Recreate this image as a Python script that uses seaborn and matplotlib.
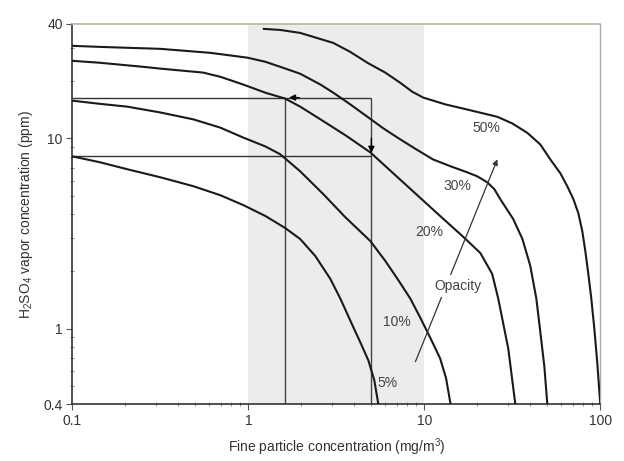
import numpy as np
import pandas as pd
import matplotlib
matplotlib.use("Agg")
import matplotlib.pyplot as plt
import seaborn as sns

# ---- data ----
x_5 = [0.1, 0.144, 0.205, 0.316, 0.487, 0.693, 0.937, 1.25, 1.62, 1.97, 2.40, 2.92,
       3.33, 3.80, 4.33, 4.81, 5.20, 5.48]
y_5 = [8.05, 7.49, 6.89, 6.25, 5.61, 5.03, 4.46, 3.91, 3.38, 2.96, 2.41, 1.83,
       1.44, 1.10, 0.846, 0.680, 0.534, 0.4]

x_10 = [0.1, 0.144, 0.205, 0.316, 0.487, 0.693, 0.937, 1.25, 1.52, 1.97, 2.67, 3.56,
        4.93, 6.00, 7.03, 8.32, 9.49, 10.8, 12.3, 13.3, 14.1]
y_10 = [15.8, 15.2, 14.7, 13.7, 12.6, 11.4, 10.1, 9.08, 8.25, 6.72, 5.09, 3.85,
        2.89, 2.27, 1.83, 1.44, 1.14, 0.897, 0.697, 0.547, 0.4]

x_20 = [0.1, 0.144, 0.253, 0.316, 0.554, 0.693, 0.937, 1.25, 1.62, 1.97, 2.57, 3.56,
        4.93, 7.80, 12.3, 16.7, 20.8, 24.3, 26.3, 30.0, 32.9]
y_20 = [25.6, 25.0, 23.8, 23.3, 22.2, 21.1, 19.2, 17.4, 16.2, 14.7, 12.6, 10.4,
        8.45, 5.74, 3.91, 3.03, 2.50, 1.94, 1.44, 0.785, 0.4]

x_30 = [0.1, 0.144, 0.316, 0.608, 0.987, 1.25, 1.52, 1.97, 2.57, 3.04, 3.80, 4.75,
        5.85, 7.31, 9.01, 11.2, 14.1, 17.5, 20.0, 22.8, 25.0, 27.0, 32.0, 36.1,
        40.0, 43.3, 45.6, 48.1, 50.0]
y_30 = [30.7, 30.3, 29.6, 28.2, 26.6, 25.3, 23.8, 21.9, 19.2, 17.4, 15.1, 13.0,
        11.3, 9.88, 8.76, 7.76, 7.14, 6.64, 6.32, 5.88, 5.41, 4.80, 3.77, 2.96,
        2.14, 1.44, 0.964, 0.632, 0.4]

x_50 = [1.22, 1.52, 1.97, 3.04, 3.80, 4.75, 6.00, 7.31, 8.55, 9.87, 13.2, 17.5,
        26.0, 31.6, 38.5, 45.6, 52.0, 59.3, 64.9, 70.3, 75.0, 79.0, 82.2, 85.5,
        88.9, 92.5, 96.1, 100.0]
y_50 = [37.7, 37.2, 35.9, 31.8, 28.5, 25.0, 22.2, 19.6, 17.6, 16.4, 15.1, 14.2,
        13.0, 12.0, 10.7, 9.30, 7.76, 6.56, 5.61, 4.80, 4.05, 3.26, 2.56, 1.94,
        1.44, 1.0, 0.664, 0.4]

curve_names = ["5%", "10%", "20%", "30%", "50%"]
guide_x = [1.62, 5.0]       # vertical guide lines
guide_y = [16.4, 8.05]      # horizontal guide lines
shade_range = [1, 10]
x_ticks = [0.1, 1, 10, 100]
x_ticklabels = ["0.1", "1", "10", "100"]
y_ticks = [0.4, 1, 10, 40]
y_ticklabels = ["0.4", "1", "10", "40"]

label_pos = {"50%": (18.7, 11.4), "30%": (12.8, 5.61), "20%": (8.9, 3.22),
             "10%": (5.85, 1.09), "5%": (5.4, 0.515)}

frames = []
for name, xs, ys in zip(curve_names, [x_5, x_10, x_20, x_30, x_50], [y_5, y_10, y_20, y_30, y_50]):
    frames.append(pd.DataFrame({"x": xs, "y": ys, "curve": name}))
df = pd.concat(frames, ignore_index=True)

sns.set_theme(style="white")
plt.rcParams["font.family"] = ["Liberation Sans", "DejaVu Sans"]
plt.rcParams["mathtext.default"] = "regular"

fig = plt.figure(figsize=(6.24, 4.61), dpi=100)
ax = fig.add_axes([0.116, 0.123, 0.846, 0.825])

ax.axvspan(shade_range[0], shade_range[1], color="#ececec", zorder=0, lw=0)

sns.lineplot(data=df, x="x", y="y", units="curve", estimator=None, sort=False,
             color="#1a1a1a", lw=1.5, ax=ax, legend=False, zorder=3)
for ln in ax.get_lines():
    ln.set_solid_joinstyle("round")

# guide rectangle lines
ax.hlines(guide_y, 0.1, guide_x[1], color="#333333", lw=1.0, zorder=2)
ax.vlines(guide_x, 0.4, guide_y[0], color="#444444", lw=1.0, zorder=2)
# small arrowheads
ax.annotate("", xy=(1.70, guide_y[0]), xytext=(1.95, guide_y[0]),
            arrowprops=dict(arrowstyle="-|>", color="black", lw=1.0,
                            mutation_scale=9, shrinkA=0, shrinkB=0), zorder=5)
ax.annotate("", xy=(guide_x[1], 8.4), xytext=(guide_x[1], 10.0),
            arrowprops=dict(arrowstyle="-|>", color="black", lw=1.0,
                            mutation_scale=9, shrinkA=0, shrinkB=0), zorder=5)

ax.set_xscale("log")
ax.set_yscale("log")
ax.set_xlim(0.1, 100)
ax.set_ylim(0.4, 40)
ax.set_xticks(x_ticks)
ax.set_xticklabels(x_ticklabels)
ax.set_yticks(y_ticks)
ax.set_yticklabels(y_ticklabels)
ax.tick_params(axis="both", which="major", direction="out", length=4, width=0.8,
               labelsize=10, labelcolor="#333333", color="#555555", pad=3)
ax.tick_params(axis="both", which="minor", direction="inout", length=3, width=0.6,
               color="#777777")
ax.tick_params(axis="x", which="both", bottom=True)
ax.tick_params(axis="y", which="both", left=True)
ax.yaxis.set_minor_formatter(matplotlib.ticker.NullFormatter())
ax.xaxis.set_minor_formatter(matplotlib.ticker.NullFormatter())

for side in ["left", "bottom"]:
    ax.spines[side].set_color("#333333")
    ax.spines[side].set_linewidth(1.2)
ax.spines["top"].set_color("#b8b894")
ax.spines["top"].set_linewidth(1.2)
ax.spines["right"].set_color("#a8aab8")
ax.spines["right"].set_linewidth(1.0)

# curve labels
for name in curve_names:
    lx, ly = label_pos[name]
    ax.text(lx, ly, name, fontsize=10, color="#444444", ha="left", va="center", zorder=6)

# opacity arrow
ax.annotate("", xy=(26.0, 7.76), xytext=(8.9, 0.67),
            arrowprops=dict(arrowstyle="-|>", color="#333333", lw=0.9,
                            mutation_scale=8, shrinkA=0, shrinkB=0), zorder=4)
ax.text(15.6, 1.68, "Opacity", fontsize=10, color="#444444", ha="center", va="center",
        zorder=7, bbox=dict(facecolor="white", edgecolor="none", pad=3.0))

ax.set_xlabel("Fine particle concentration (mg/m$^3$)", fontsize=10, color="#333333", labelpad=6)
ax.set_ylabel("H$_2$SO$_4$ vapor concentration (ppm)", fontsize=10, color="#333333", labelpad=6)

fig.savefig("out.png", dpi=100)
